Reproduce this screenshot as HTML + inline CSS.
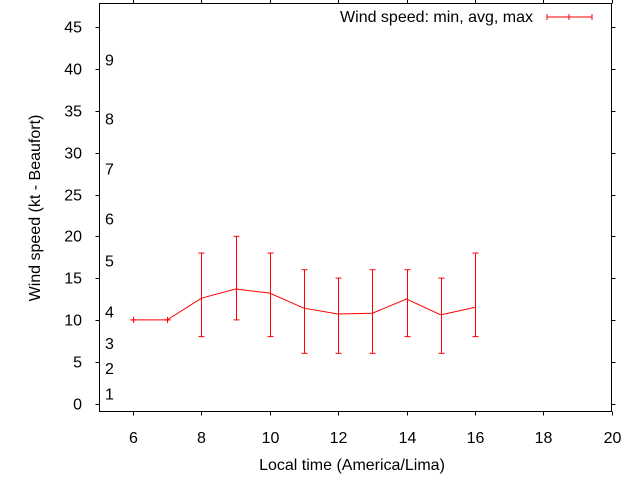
<!DOCTYPE html>
<html><head><meta charset="utf-8"><style>
body{margin:0;background:#fff}
text{font-family:"Liberation Sans",sans-serif;font-size:16px;fill:#000}
</style></head><body>
<svg width="640" height="480" xmlns="http://www.w3.org/2000/svg">
<g id="axes"></g><g id="plot"></g>
<text x="352" y="470" text-anchor="middle">Local time (America/Lima)</text>
<text transform="translate(40,208) rotate(-90)" text-anchor="middle">Wind speed (kt - Beaufort)</text>
<g>
<text x="533" y="22" text-anchor="end">Wind speed: min, avg, max</text>
<g stroke="red" stroke-width="1"><line x1="547" y1="17" x2="592" y2="17"/><line x1="547" y1="14" x2="547" y2="20"/><line x1="569" y1="14" x2="569" y2="20"/><line x1="592" y1="14" x2="592" y2="20"/></g>
</g>
</svg>
<script>
const hours=[6,7,8,9,10,11,12,13,14,15,16];
const avgSpeed=[10,10,12.6,13.7,13.2,11.4,10.7,10.8,12.5,10.6,11.5];
const minSpeed=[10,10,8,10,8,6,6,6,8,6,8];
const maxSpeed=[10,10,18,20,18,16,15,16,16,15,18];
const xTicks=[6,8,10,12,14,16,18,20];
const yTicks=[0,5,10,15,20,25,30,35,40,45];
const beaufortLabels=["1","2","3","4","5","6","7","8","9"];
const beaufortPos=[1.1,4.1,7.1,10.9,17,22,28,34,41];
const L=99.5,R=611.5,T=3.5,B=411.5;
const X=v=>133+(v-6)*34.19;
const Y=v=>403.5-v*8.36;
const NS="http://www.w3.org/2000/svg";
const ax=document.getElementById('axes'),pl=document.getElementById('plot');
function mk(p,tag,a){const e=document.createElementNS(NS,tag);for(const k in a)e.setAttribute(k,a[k]);p.appendChild(e);return e;}
const fr=mk(ax,'rect',{x:L,y:T,width:R-L,height:B-T,fill:'none',stroke:'#000'});


xTicks.forEach(t=>{const x=Math.round(X(t))+.5;
mk(ax,'line',{x1:x,y1:B,x2:x,y2:B+4,stroke:'#000'});mk(ax,'line',{x1:x,y1:T,x2:x,y2:T-4,stroke:'#000'});
const tx=mk(ax,'text',{x:x,y:443,'text-anchor':'middle'});tx.textContent=t;

});
yTicks.forEach(t=>{const y=Math.round(Y(t))+.5;
mk(ax,'line',{x1:L,y1:y,x2:L-4,y2:y,stroke:'#000'});mk(ax,'line',{x1:R,y1:y,x2:R+4,y2:y,stroke:'#000'});
const tx=mk(ax,'text',{x:82,y:y+5,'text-anchor':'end'});tx.textContent=t;

});
beaufortLabels.forEach((b,i)=>{const tx=mk(ax,'text',{x:105,y:Y(beaufortPos[i])+5});tx.textContent=b;

});
const ln=mk(pl,'polyline',{points:hours.map((h,i)=>X(h)+','+Y(avgSpeed[i])).join(' '),fill:'none',stroke:'red'});


hours.forEach((h,i)=>{const g=mk(pl,'g',{stroke:'red'});


const x=Math.round(X(h))+.5;
mk(g,'line',{x1:x,y1:Y(minSpeed[i]),x2:x,y2:Y(maxSpeed[i])});
mk(g,'line',{x1:x-3,y1:Y(minSpeed[i]),x2:x+3,y2:Y(minSpeed[i])});
mk(g,'line',{x1:x-3,y1:Y(maxSpeed[i]),x2:x+3,y2:Y(maxSpeed[i])});
if(minSpeed[i]===maxSpeed[i])mk(g,'line',{x1:x,y1:Y(avgSpeed[i])-3,x2:x,y2:Y(avgSpeed[i])+3});});
</script>
</body></html>
